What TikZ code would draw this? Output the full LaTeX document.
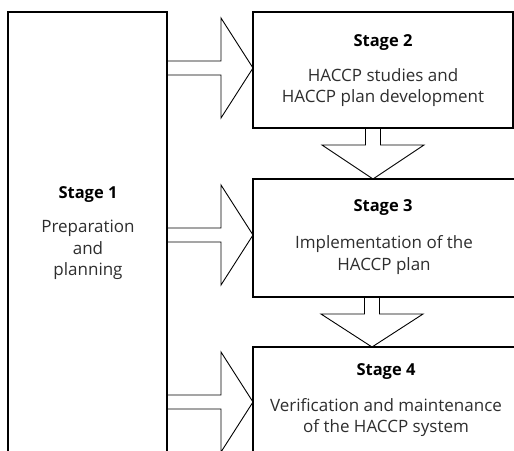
\documentclass[tikz,border=0pt]{standalone}
\usepackage{fontspec}
\setmainfont{Open Sans}
\usetikzlibrary{calc}
\definecolor{bodytext}{HTML}{2E2E2E}
\begin{document}
\begin{tikzpicture}[x=1pt,y=-1pt,
  stagebox/.style={draw,line width=1.5pt,outer sep=0pt,inner sep=0pt},
  title/.style={font=\bfseries\fontsize{16.5}{18}\selectfont,text=black},
  body/.style={font=\fontsize{17}{21.5}\selectfont,text=bodytext,align=center},
  rblock/.style={line width=0.9pt,line join=miter,
    to path={let \p1=(\tikztostart), \p2=(\tikztotarget) in
      (\x1,\y1+7pt) -- (\x2-32pt,\y1+7pt) -- (\x2-32pt,\y1+50pt) -- (\x2,\y1)
      -- (\x2-32pt,\y1-50pt) -- (\x2-32pt,\y1-7pt) -- (\x1,\y1-7pt)}},
  dblock/.style={line width=0.9pt,line join=miter,
    to path={let \p1=(\tikztostart), \p2=(\tikztotarget) in
      (\x1-7.5pt,\y1) -- (\x1-7.5pt,\y1-17pt) -- (\x1-51pt,\y1-17pt) -- (\x1,\y2)
      -- (\x1+51pt,\y1-17pt) -- (\x1+7.5pt,\y1-17pt) -- (\x1+7.5pt,\y1)}}]
\clip (0,0) rectangle (514,450);
\fill[white] (0,0) rectangle (514,450);

% stage boxes
\node[stagebox,minimum width=159pt,minimum height=458pt] (s1) at (87.5,241) {};
\node[stagebox,minimum width=260pt,minimum height=116pt] (s2) at (383,70) {};
\node[stagebox,minimum width=277pt,minimum height=118pt] (s3) at (391.5,238) {};
\node[stagebox,minimum width=277pt,minimum height=123pt] (s4) at (391.5,408.5) {};

% stage texts
\node[title] (t1) at (88,195) {Stage 1};
\node[body] (b1) at (88,250) {Preparation\\and\\planning};
\node[title] (t2) at (383,43) {Stage 2};
\node[body] (b2) at (383,87.5) {HACCP studies and\\HACCP plan development};
\node[title] (t3) at (383,208) {Stage 3};
\node[body] (b3) at (384,255) {Implementation of the\\HACCP plan};
\node[title] (t4) at (386,372) {Stage 4};
\node[body] (b4) at (386,417.5) {Verification and maintenance\\of the HACCP system};

% block arrows from stage 1 to the later stages
\draw[rblock] (s1.east |- 0,68) to (s2.west |- 0,68);
\draw[rblock] (s1.east |- 0,235) to (s3.west |- 0,235);
\draw[rblock] (s1.east |- 0,402) to (s4.west |- 0,402);

% block arrows between consecutive stages
\draw[dblock] (s2.south -| 373,0) to (s3.north -| 373,0);
\draw[dblock] (s3.south -| 372,0) to (s4.north -| 372,0);
\end{tikzpicture}
\end{document}
